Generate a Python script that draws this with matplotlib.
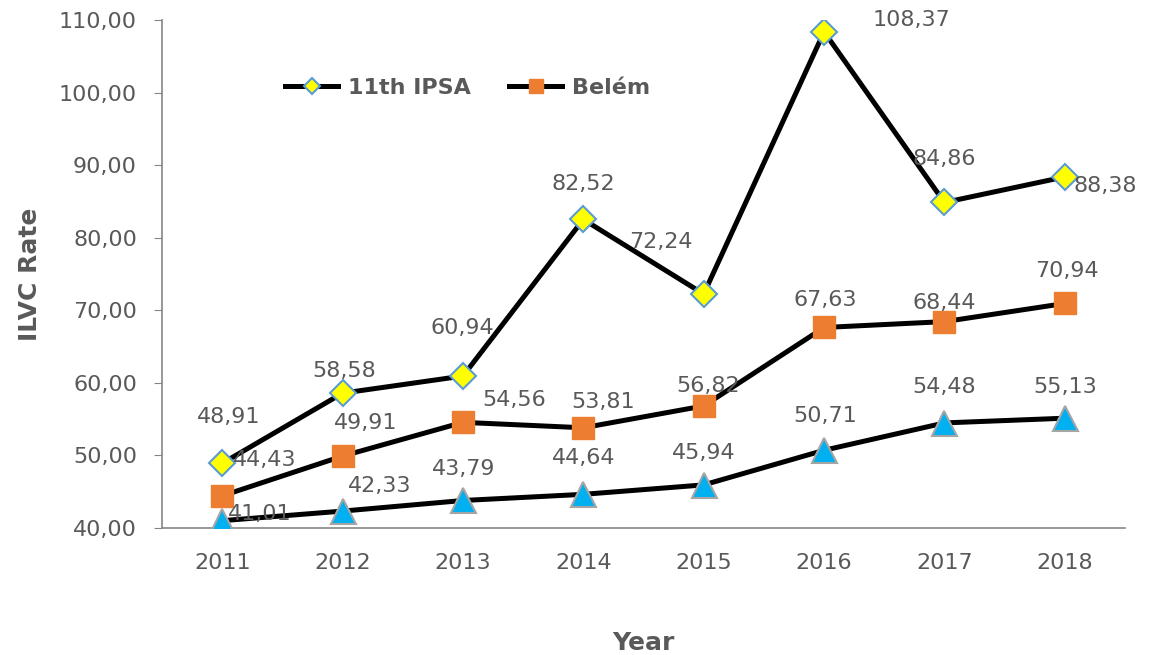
import matplotlib
matplotlib.use("Agg")
import matplotlib.pyplot as plt

years = ["2011", "2012", "2013", "2014", "2015", "2016", "2017", "2018"]
ipsa = [48.91, 58.58, 60.94, 82.52, 72.24, 108.37, 84.86, 88.38]
belem = [44.43, 49.91, 54.56, 53.81, 56.82, 67.63, 68.44, 70.94]
third = [41.01, 42.33, 43.79, 44.64, 45.94, 50.71, 54.48, 55.13]

# label offsets in pixels (dx, dy) relative to each point
ipsa_off = [(6, 46), (2, 22), (-1, 48), (0, 35), (-43, 52), (87, 12), (0, 43), (40, -9)]
belem_off = [(43, 36), (23, 33), (51, 22), (20, 26), (4, 20), (1, 27), (0, 19), (2, 32)]
third_off = [(38, 7), (37, 25), (1, 31), (0, 36), (0, 32), (1, 34), (0, 36), (0, 31)]

GRAY = "#595959"

fig = plt.figure(figsize=(11.52, 6.55), dpi=100)
ax = fig.add_axes([162 / 1152, 1 - 528 / 655, (1125 - 162) / 1152, (528 - 20) / 655])

x = list(range(len(years)))
ax.plot(x, ipsa, color="black", lw=3.6, marker="D", ms=13, mfc="#FFFF00",
        mec="#5B9BD5", mew=1.5, label="11th IPSA", zorder=3)
ax.plot(x, belem, color="black", lw=3.6, marker="s", ms=16, mfc="#ED7D31",
        mec="#ED7D31", mew=1, label="Belém", zorder=3)
ax.plot(x, third, color="black", lw=3.6, marker="^", ms=18, mfc="#00B0F0",
        mec="#A5A5A5", mew=1.5, label="_nolegend_", zorder=3)

for vals, offs in [(ipsa, ipsa_off), (belem, belem_off), (third, third_off)]:
    for i, (v, (dx, dy)) in enumerate(zip(vals, offs)):
        ax.annotate(f"{v:.2f}".replace(".", ","), (i, v), xytext=(dx, dy),
                    textcoords="offset pixels", ha="center", va="center",
                    fontsize=16, color=GRAY, zorder=4)

ax.set_xlim(-0.5, len(years) - 0.5)
ax.set_ylim(40, 110)
ax.set_xticks(x)
ax.set_xticklabels(years)
yt = list(range(40, 111, 10))
ax.set_yticks(yt)
ax.set_yticklabels([f"{v:.2f}".replace(".", ",") for v in yt])
ax.tick_params(axis="y", direction="out", length=6, color="#868686", labelsize=16,
               labelcolor=GRAY, pad=12)
ax.tick_params(axis="x", length=0, labelsize=16, labelcolor=GRAY, pad=18)

for s in ["top", "right"]:
    ax.spines[s].set_visible(False)
for s in ["left", "bottom"]:
    ax.spines[s].set_color("#868686")
    ax.spines[s].set_linewidth(1.2)

ax.set_xlabel("Year", fontsize=18, fontweight="bold", color=GRAY, labelpad=42)
ax.set_ylabel("ILVC Rate", fontsize=18, fontweight="bold", color=GRAY, labelpad=12)

ax.legend(loc="upper left", bbox_to_anchor=(0.107, 0.925), ncol=2, frameon=False,
          prop={"size": 16, "weight": "bold"}, labelcolor=GRAY, handlelength=2.4,
          handletextpad=0.45, columnspacing=1.7, markerscale=0.6)

fig.savefig("out.png", dpi=100)
